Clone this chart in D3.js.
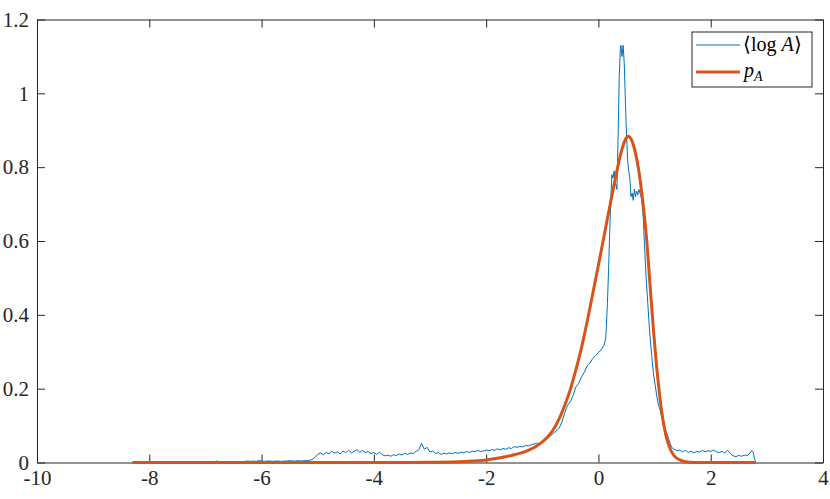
<!DOCTYPE html>
<html>
<head>
<meta charset="utf-8">
<script src="https://cdn.jsdelivr.net/npm/d3@7"></script>
<style>
  body { margin: 0; background: #fff; }
</style>
</head>
<body>
<div id="chart"></div>
<script>
  // chart size, MATLAB-like axes box
  var W = 830, H = 499;
  var margin = {top: 19.5, right: 7, bottom: 36.5, left: 37};
  var serif = '"Liberation Serif"';

  var xTicks = [-10, -8, -6, -4, -2, 0, 2, 4];
  var yTicks = [0, 0.2, 0.4, 0.6, 0.8, 1, 1.2];

  var logA = [
    [-8.3, 0], [-6.85, 0],
    [-6.80, 0.004], [-6.75, 0.001], [-6.70, 0.002], [-6.65, 0.001], [-6.60, 0.002], [-6.55, 0.002],
    [-6.50, 0.003], [-6.45, 0.002], [-6.40, 0.003], [-6.35, 0.002], [-6.30, 0.003], [-6.25, 0.004],
    [-6.20, 0.003], [-6.15, 0.004], [-6.10, 0.003], [-6.05, 0.005], [-6.00, 0.004], [-5.95, 0.003],
    [-5.90, 0.004], [-5.85, 0.004], [-5.80, 0.003], [-5.75, 0.004], [-5.70, 0.004], [-5.65, 0.003],
    [-5.60, 0.004], [-5.55, 0.004], [-5.50, 0.005], [-5.45, 0.004], [-5.40, 0.004], [-5.35, 0.005],
    [-5.30, 0.004], [-5.25, 0.005], [-5.20, 0.005], [-5.15, 0.006], [-5.10, 0.008], [-5.05, 0.014],
    [-5.00, 0.022], [-4.95, 0.026], [-4.90, 0.021], [-4.85, 0.027], [-4.80, 0.024], [-4.75, 0.030],
    [-4.70, 0.025], [-4.65, 0.029], [-4.60, 0.023], [-4.55, 0.031], [-4.50, 0.027], [-4.45, 0.033],
    [-4.40, 0.026], [-4.35, 0.030], [-4.30, 0.035], [-4.25, 0.028], [-4.20, 0.032], [-4.15, 0.027],
    [-4.10, 0.030], [-4.05, 0.024], [-4.00, 0.027], [-3.95, 0.022], [-3.90, 0.028], [-3.85, 0.021],
    [-3.80, 0.018], [-3.75, 0.020], [-3.70, 0.017], [-3.65, 0.021], [-3.60, 0.019], [-3.55, 0.023],
    [-3.50, 0.020], [-3.45, 0.025], [-3.40, 0.022], [-3.35, 0.026], [-3.30, 0.024], [-3.25, 0.030],
    [-3.20, 0.034], [-3.15, 0.052], [-3.10, 0.036], [-3.05, 0.041], [-3.00, 0.028], [-2.95, 0.031],
    [-2.90, 0.024], [-2.85, 0.027], [-2.80, 0.022], [-2.75, 0.025], [-2.70, 0.023], [-2.65, 0.026],
    [-2.60, 0.024], [-2.55, 0.027], [-2.50, 0.025], [-2.45, 0.028], [-2.40, 0.026], [-2.35, 0.030],
    [-2.30, 0.027], [-2.25, 0.031], [-2.20, 0.029], [-2.15, 0.033], [-2.10, 0.030], [-2.05, 0.031],
    [-2.00, 0.034], [-1.95, 0.032], [-1.90, 0.035], [-1.85, 0.033], [-1.80, 0.037], [-1.75, 0.034],
    [-1.70, 0.038], [-1.65, 0.036], [-1.60, 0.040], [-1.55, 0.038], [-1.50, 0.043], [-1.45, 0.041],
    [-1.40, 0.044], [-1.35, 0.042], [-1.30, 0.046], [-1.25, 0.045], [-1.20, 0.048], [-1.15, 0.050],
    [-1.10, 0.052], [-1.05, 0.051], [-1.00, 0.056], [-0.95, 0.060], [-0.90, 0.066], [-0.85, 0.072],
    [-0.80, 0.080], [-0.75, 0.085], [-0.70, 0.093], [-0.65, 0.110], [-0.60, 0.135], [-0.55, 0.155],
    [-0.50, 0.165], [-0.45, 0.182], [-0.40, 0.205], [-0.35, 0.215], [-0.30, 0.232], [-0.25, 0.245],
    [-0.20, 0.262], [-0.15, 0.270], [-0.10, 0.282], [-0.05, 0.290], [0.00, 0.298], [0.05, 0.305],
    [0.10, 0.318], [0.13, 0.335], [0.16, 0.43], [0.18, 0.52], [0.20, 0.62], [0.22, 0.71],
    [0.24, 0.78], [0.26, 0.77], [0.28, 0.79], [0.30, 0.76], [0.33, 0.74], [0.35, 0.88],
    [0.37, 1.04], [0.39, 1.12], [0.40, 1.13], [0.42, 1.10], [0.44, 1.13], [0.46, 1.08],
    [0.48, 0.98], [0.50, 0.89], [0.52, 0.82], [0.54, 0.79], [0.56, 0.77], [0.58, 0.72],
    [0.60, 0.73], [0.62, 0.71], [0.64, 0.74], [0.66, 0.72], [0.68, 0.735], [0.70, 0.725],
    [0.72, 0.74], [0.74, 0.73], [0.76, 0.72], [0.78, 0.70], [0.80, 0.66], [0.82, 0.59],
    [0.85, 0.50], [0.88, 0.43], [0.90, 0.38], [0.92, 0.34], [0.95, 0.29], [0.98, 0.24],
    [1.01, 0.21], [1.04, 0.18], [1.07, 0.155], [1.10, 0.142], [1.13, 0.12], [1.16, 0.10],
    [1.19, 0.09], [1.22, 0.078], [1.25, 0.065], [1.28, 0.05], [1.31, 0.04], [1.34, 0.036],
    [1.37, 0.035], [1.40, 0.031], [1.45, 0.034], [1.50, 0.029], [1.55, 0.033], [1.60, 0.027],
    [1.65, 0.031], [1.70, 0.026], [1.75, 0.030], [1.80, 0.028], [1.85, 0.033], [1.90, 0.029],
    [1.95, 0.032], [2.00, 0.030], [2.05, 0.034], [2.10, 0.029], [2.15, 0.027], [2.20, 0.030],
    [2.25, 0.026], [2.30, 0.033], [2.35, 0.024], [2.40, 0.018], [2.45, 0.016], [2.50, 0.019],
    [2.55, 0.017], [2.60, 0.020], [2.65, 0.018], [2.70, 0.026], [2.73, 0.032], [2.76, 0.026],
    [2.78, 0.010], [2.80, 0.002]
  ];

  // fitted density p_A: [x, density]
  var pA = [
    [-8.3, 0], [-4, 0], [-3, 0.0005], [-2.5, 0.002], [-2.25, 0.004], [-2.0, 0.007], [-1.75, 0.013],
    [-1.5, 0.021], [-1.25, 0.033], [-1.1, 0.045], [-1.0, 0.056], [-0.9, 0.070], [-0.8, 0.090],
    [-0.7, 0.118], [-0.6, 0.155], [-0.5, 0.198], [-0.4, 0.252], [-0.3, 0.312], [-0.2, 0.382],
    [-0.1, 0.458], [0.0, 0.535], [0.1, 0.613], [0.2, 0.692], [0.3, 0.768], [0.4, 0.838],
    [0.47, 0.872], [0.53, 0.884], [0.58, 0.877], [0.65, 0.845], [0.72, 0.79], [0.78, 0.72],
    [0.85, 0.62], [0.92, 0.48], [0.98, 0.36], [1.05, 0.24], [1.13, 0.135], [1.2, 0.075],
    [1.28, 0.036], [1.35, 0.018], [1.45, 0.007], [1.55, 0.002], [1.7, 0.0003], [2.8, 0]
  ];

  var legendLabels = ['logA', 'pA'];
  var colors = {logA: '#0072BD', pA: '#D95319'};

  var svg = d3.select('#chart').append('svg')
    .attr('width', W)
    .attr('height', H);

  var iw = W - margin.left - margin.right,
      ih = H - margin.top - margin.bottom;

  var x = d3.scaleLinear().domain([-10, 4]).range([0, iw]);
  var y = d3.scaleLinear().domain([0, 1.2]).range([ih, 0]);

  var g = svg.append('g')
    .attr('transform', 'translate(' + margin.left + ',' + margin.top + ')');

  var fmt = function (d) { return String(d); };
  var axisCol = '#262626';

  // bottom + left axes with labels, ticks pointing inwards
  var xAxis = g.append('g')
    .attr('transform', 'translate(0,' + ih + ')')
    .call(d3.axisBottom(x).tickValues(xTicks).tickFormat(fmt).tickSizeInner(-8).tickSizeOuter(0).tickPadding(8));
  var yAxis = g.append('g')
    .call(d3.axisLeft(y).tickValues(yTicks).tickFormat(fmt).tickSizeInner(-8).tickSizeOuter(0).tickPadding(8));
  // top + right: ticks only
  var xTop = g.append('g')
    .call(d3.axisTop(x).tickValues(xTicks).tickFormat('').tickSizeInner(-8).tickSizeOuter(0));
  var yRight = g.append('g')
    .attr('transform', 'translate(' + iw + ',0)')
    .call(d3.axisRight(y).tickValues(yTicks).tickFormat('').tickSizeInner(-8).tickSizeOuter(0));

  [xAxis, yAxis, xTop, yRight].forEach(function (a) {
    a.selectAll('path.domain').attr('stroke', axisCol).attr('stroke-width', 1);
    a.selectAll('.tick line').attr('stroke', axisCol).attr('stroke-width', 1);
    a.selectAll('.tick text')
      .attr('fill', axisCol)
      .style('font-size', '21px')
      .style('font-family', serif);
  });

  var line = d3.line()
    .x(function (d) { return x(d[0]); })
    .y(function (d) { return y(d[1]); });

  g.append('path')
    .datum(logA)
    .attr('fill', 'none')
    .attr('stroke', colors.logA)
    .attr('stroke-width', 1)
    .attr('stroke-linejoin', 'round')
    .attr('d', line);

  g.append('path')
    .datum(pA)
    .attr('fill', 'none')
    .attr('stroke', colors.pA)
    .attr('stroke-width', 3)
    .attr('stroke-linejoin', 'round')
    .attr('d', d3.line().curve(d3.curveMonotoneX)
      .x(function (d) { return x(d[0]); })
      .y(function (d) { return y(d[1]); }));

  // legend box
  var lg = svg.append('g').attr('transform', 'translate(692,32)');
  lg.append('rect')
    .attr('width', 120).attr('height', 55)
    .attr('fill', '#fff')
    .attr('stroke', axisCol)
    .attr('stroke-width', 1);

  lg.selectAll('line.key')
    .data(legendLabels)
    .enter()
    .append('line')
    .attr('class', 'key')
    .attr('x1', 4).attr('x2', 48)
    .attr('y1', function (d, i) { return 13 + i * 27; })
    .attr('y2', function (d, i) { return 13 + i * 27; })
    .attr('stroke', function (d) { return colors[d]; })
    .attr('stroke-width', function (d) { return d === 'pA' ? 3 : 1; });

  var t1 = lg.append('text')
    .attr('x', 51).attr('y', 19)
    .style('font-family', serif)
    .style('font-size', '20px')
    .attr('fill', '#000');
  t1.append('tspan').text('\u27E8log ');
  t1.append('tspan').style('font-style', 'italic').text('A');
  t1.append('tspan').text('\u27E9');

  var t2 = lg.append('text')
    .attr('x', 52).attr('y', 45)
    .style('font-family', serif)
    .style('font-size', '20px')
    .attr('fill', '#000');
  t2.append('tspan').style('font-style', 'italic').text('p');
  t2.append('tspan').style('font-style', 'italic').style('font-size', '14px')
    .attr('dy', 4).text('A');
</script>
</body>
</html>
